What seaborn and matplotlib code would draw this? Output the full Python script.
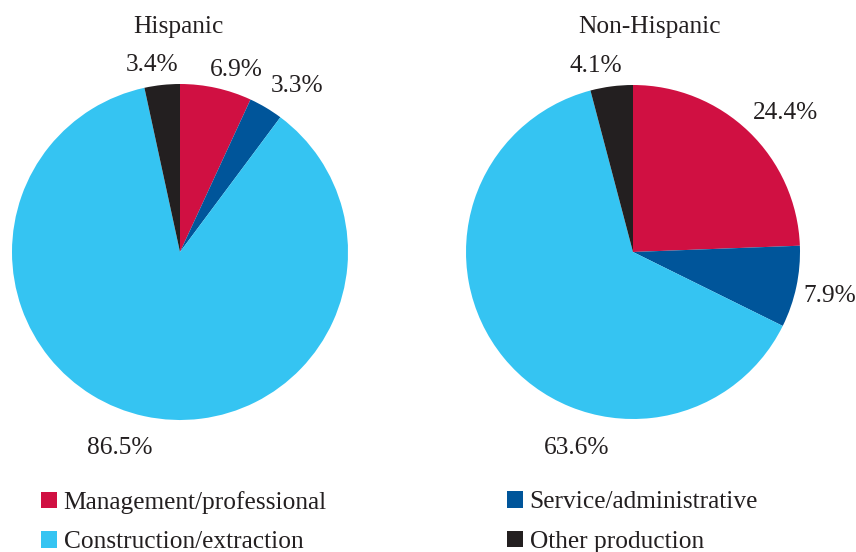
import matplotlib
matplotlib.use("Agg")
import matplotlib.pyplot as plt
import seaborn as sns
import numpy as np
from matplotlib.patches import Patch

categories = ["Management/professional", "Service/administrative",
              "Construction/extraction", "Other production"]
hispanic = [6.9, 3.3, 86.5, 3.4]
non_hispanic = [24.4, 7.9, 63.6, 4.1]
titles = ["Hispanic", "Non-Hispanic"]
colors = ["#D01042", "#00559A", "#35C4F2", "#231F20"]

# label layout: (angle offset from wedge middle in degrees, radial distance)
label_layout = [
    [(-4.4, 1.151), (-3.9, 1.223), (None, 1.203), (2.3, 1.143)],
    [(-3.2, 1.250), (0.4, 1.200), (None, 1.203), (3.7, 1.153)],
]
big_label_angle = [-107.3, -106.2]

sns.set_theme(style="white")
plt.rcParams["font.family"] = ["Liberation Serif", "DejaVu Serif"]

W, H = 856, 552
fig = plt.figure(figsize=(W / 100, H / 100), dpi=100)
txt_color = "#231F20"


def px_axes(cx, cy, r):
    return fig.add_axes([(cx - r) / W, (H - cy - r) / H, 2 * r / W, 2 * r / H])


specs = [(180, 252, 168, hispanic), (633, 252, 167, non_hispanic)]
title_pos = [(178, 27), (650, 27)]
fs = 18.3
for k, ((cx, cy, r, vals), title) in enumerate(zip(specs, titles)):
    ax = px_axes(cx, cy, r)
    wedges, _ = ax.pie(vals, colors=colors, startangle=90, counterclock=False,
                       radius=1.0, wedgeprops=dict(linewidth=0))
    ax.set_xlim(-1, 1)
    ax.set_ylim(-1, 1)
    ax.set_aspect("equal")
    ax.axis("off")
    for i, (w, v) in enumerate(zip(wedges, vals)):
        off, d = label_layout[k][i]
        if off is None:
            ang = np.deg2rad(big_label_angle[k])
        else:
            ang = np.deg2rad((w.theta1 + w.theta2) / 2 + off)
        ax.text(d * np.cos(ang), d * np.sin(ang) - 3.0 / r, f"{v:.1f}%",
                ha="center", va="center", fontsize=fs, color=txt_color)
    tx, ty = title_pos[k]
    fig.text(tx / W, 1 - ty / H, title, ha="center", va="center",
             fontsize=fs, color=txt_color)

handles = [Patch(facecolor=c, edgecolor="none") for c in colors]
leg_kw = dict(frameon=False, fontsize=fs, handlelength=0.62, handleheight=0.62,
              handletextpad=0.27, labelspacing=0.68, borderaxespad=0,
              borderpad=0, labelcolor=txt_color)
fig.legend([handles[0], handles[2]], [categories[0], categories[2]],
           loc="center left", bbox_to_anchor=(41 / W, 1 - 522 / H), **leg_kw)
fig.legend([handles[1], handles[3]], [categories[1], categories[3]],
           loc="center left", bbox_to_anchor=(507 / W, 1 - 522 / H), **leg_kw)

fig.savefig("out.png", dpi=100, facecolor="white")
